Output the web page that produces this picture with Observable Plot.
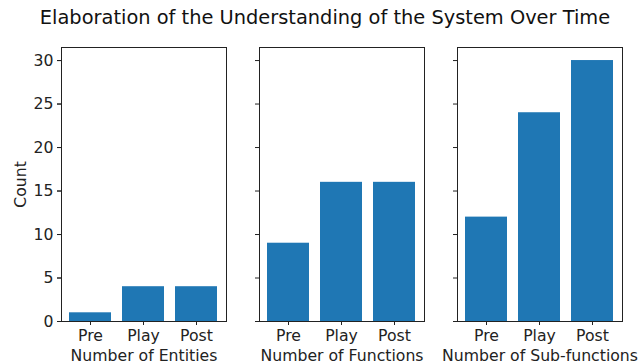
<!DOCTYPE html>
<html>
<head>
<meta charset="utf-8">
<script src="https://cdn.jsdelivr.net/npm/d3@7"></script>
<script src="https://cdn.jsdelivr.net/npm/@observablehq/plot@0.6"></script>
<style>
  html, body { margin: 0; padding: 0; background: #fff; }
  #title { width: 640px; height: 36px; line-height: 36px; text-align: center;
           font-family: "DejaVu Sans", sans-serif; font-size: 19.4px; color: #111; padding-left: 10px; box-sizing: border-box; }
</style>
</head>
<body>
<div id="title">Elaboration of the Understanding of the System Over Time</div>
<div id="chart"></div>
<script>
const phases = ["Pre", "Play", "Post"];
const metrics = ["Number of Entities", "Number of Functions", "Number of Sub-functions"];
const entities = [1, 4, 4];
const functions = [9, 16, 16];
const subfunctions = [12, 24, 30];
const yTicks = [0, 5, 10, 15, 20, 25, 30];

const series = [entities, functions, subfunctions];
const data = [];
metrics.forEach((m, i) => phases.forEach((p, j) => data.push({metric: m, phase: p, count: series[i][j]})));

const chart = Plot.plot({
  width: 640,
  height: 325,
  marginTop: 11,
  marginBottom: 40,
  marginLeft: 60,
  marginRight: 17,
  style: {fontFamily: "DejaVu Sans, sans-serif", fontSize: "15.7px", color: "#222", background: "#fff"},
  fx: {domain: metrics, paddingInner: 0.167, paddingOuter: 0},
  x: {domain: phases, paddingInner: 0.2, paddingOuter: 0.14},
  y: {domain: [0, 31.5]},
  marks: [
    Plot.barY(data, {fx: "metric", x: "phase", y: "count", fill: "#1f77b4"}),
    Plot.frame({stroke: "#222", strokeWidth: 1}),
    Plot.axisY({facetAnchor: null, ticks: yTicks, tickSize: 4, tickFormat: () => "", label: null}),
    Plot.axisY({ticks: yTicks, tickSize: 4, tickPadding: 4, label: "Count", labelArrow: "none", labelAnchor: "center", labelOffset: 47}),
    Plot.axisX({tickSize: 4, tickPadding: 4, label: null}),
    Plot.axisFx({anchor: "bottom", tickSize: 0, tickPadding: 28, label: null})
  ]
});
document.getElementById("chart").appendChild(chart);
</script>
</body>
</html>
